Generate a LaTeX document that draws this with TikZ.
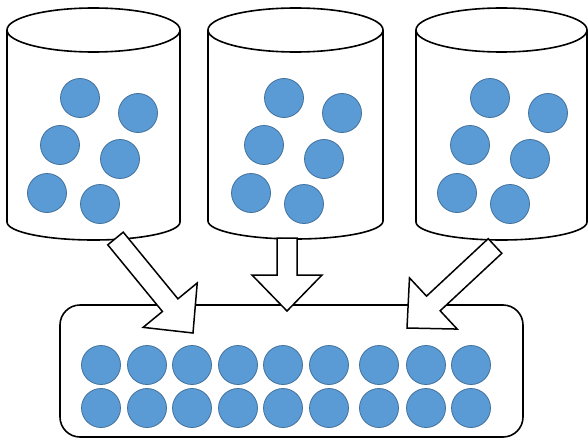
\documentclass[tikz,border=0pt]{standalone}
\usetikzlibrary{calc}
\definecolor{ballfill}{HTML}{5B9BD5}
\definecolor{ballline}{HTML}{41719C}
\newcommand{\drum}[6]{% cx, rx, topY, botY, ryTop, ryBot
  \draw[outline] ({#1-#2},#3) -- ({#1-#2},#4)
     arc[start angle=180,end angle=360,x radius=#2pt,y radius=#6pt]
     -- ({#1+#2},#3);
  \draw[outline] (#1,#3) ellipse[x radius=#2pt,y radius=#5pt];
}
\newcommand{\fatarrow}[2]{% start, tip
  \coordinate (#1b) at ($(#2)!36pt!(#1)$);
  \draw[fatarrowstyle]
    ($(#1)!10pt!90:(#2)$) -- ($(#1b)!10pt!-90:(#1)$) -- ($(#1b)!35pt!-90:(#1)$)
    -- (#2) -- ($(#1b)!35pt!90:(#1)$) -- ($(#1b)!10pt!90:(#1)$)
    -- ($(#1)!10pt!-90:(#2)$) -- cycle;
}
\begin{document}
\begin{tikzpicture}[x=1pt,y=1pt,
  outline/.style={draw=black,line width=1.6pt,fill=white},
  ball/.style={circle,fill=ballfill,draw=ballline,line width=0.8pt,minimum size=39pt,inner sep=0pt},
  fatarrowstyle/.style={draw=black,line width=1.5pt,fill=white,line join=miter},
  poolbox/.style={draw=black,line width=1.6pt,fill=white,rounded corners=20pt,inner sep=0pt}]
\useasboundingbox (0,0) rectangle (588,440);
\fill[white] (0,0) rectangle (588,440);

% containers
\drum{93.5}{86.5}{410}{218}{22}{18}
\drum{295.5}{87.5}{410}{219}{22}{18}
\drum{501.5}{85.5}{410}{218}{22}{18}

% balls in containers
\foreach \dx/\n in {0/a,204/b,410/c}{
  \node[ball] (\n1) at ({80+\dx},342) {};
  \node[ball] (\n2) at ({138+\dx},327) {};
  \node[ball] (\n3) at ({60+\dx},295) {};
  \node[ball] (\n4) at ({120+\dx},281) {};
  \node[ball] (\n5) at ({47+\dx},247) {};
  \node[ball] (\n6) at ({100+\dx},236) {};
}

% pool box
\node[poolbox,minimum width=463pt,minimum height=132pt] (pool) at (291.5,69) {};
\foreach \x [count=\i] in {101,147,192,238,283,329,379,426,471}{
  \node[ball] (p1\i) at (\x,75) {};
  \node[ball] (p2\i) at (\x,32) {};
}

% arrows
\coordinate (s1) at (115.5,201.5);
\coordinate (t1) at (193,107);
\coordinate (s2) at (287,202);
\coordinate (t2) at (287,129);
\coordinate (s3) at (495,194);
\coordinate (t3) at (407,112);
\fatarrow{s1}{t1}
\fatarrow{s2}{t2}
\fatarrow{s3}{t3}
\end{tikzpicture}
\end{document}
